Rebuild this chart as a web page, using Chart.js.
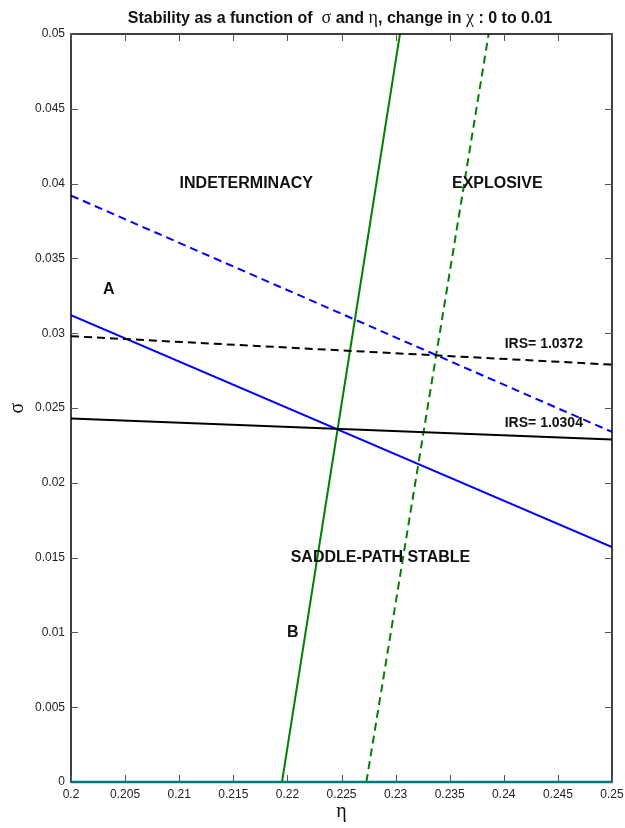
<!DOCTYPE html>
<html>
<head>
<meta charset="utf-8">
<script src="https://cdn.jsdelivr.net/npm/chart.js@4.4.1/dist/chart.umd.min.js"></script>
<style>
  html, body { margin: 0; padding: 0; background: #fff; }
  #wrap { width: 625px; height: 828px; }
</style>
</head>
<body>
<div id="wrap"><canvas id="chart" width="625" height="828"></canvas></div>
<script>
// eixos
const ETA_RANGE   = [0.2, 0.25];
const SIGMA_RANGE = [0, 0.05];
const TICK_STEP   = 0.005;

// sigma nas bordas eta=0.2 e eta=0.25
const IRS_LOW  = [0.0243, 0.0229];   // preto sólido
const IRS_HIGH = [0.0298, 0.0279];   // preto tracejado
const A_OLD    = [0.0312, 0.0157];   // azul sólido
const A_NEW    = [0.0392, 0.0234];   // azul tracejado

// eta nas bordas sigma=0 e sigma=0.05
const B_OLD = [0.2195, 0.2304];      // verde sólido
const B_NEW = [0.2273, 0.2386];      // verde tracejado

// rótulos no gráfico: [texto, eta, sigma, tamanho]
const ROTULOS = [
  ['INDETERMINACY',      0.2162, 0.0400, 16],
  ['EXPLOSIVE',          0.2394, 0.0400, 16],
  ['A',                  0.2035, 0.0329, 16],
  ['B',                  0.2205, 0.0100, 16],
  ['SADDLE-PATH STABLE', 0.2286, 0.0150, 16],
  ['IRS= 1.0372',        0.2437, 0.0293, 14],
  ['IRS= 1.0304',        0.2437, 0.0240, 14]
];

const TITULO = [
  ['Stability as a function of  ', true],
  ['σ', false],
  [' and ', true],
  ['η', false],
  [', change in ', true],
  ['χ', false],
  [' : 0 to 0.01', true]
];

const horiz = ys => ETA_RANGE.map((x, i) => ({ x, y: ys[i] }));
const vert  = xs => SIGMA_RANGE.map((y, i) => ({ x: xs[i], y }));

function serie(data, cor, tracejado) {
  return {
    data, borderColor: cor, borderWidth: 2, showLine: true,
    pointRadius: 0, borderDash: tracejado ? [8, 5] : [], fill: false
  };
}

const molduraPlugin = {
  id: 'moldura',
  afterDatasetsDraw(chart) {
    const { ctx, chartArea: a, scales: { x, y } } = chart;
    ctx.save();
    ctx.strokeStyle = '#000';
    ctx.lineWidth = 1.5;
    ctx.strokeRect(a.left, a.top, a.right - a.left, a.bottom - a.top);
    ctx.lineWidth = 1;
    ctx.strokeStyle = '#555';
    const len = 7;
    x.ticks.forEach(t => {
      const px = Math.round(x.getPixelForValue(t.value)) + 0.5;
      ctx.beginPath();
      ctx.moveTo(px, a.bottom); ctx.lineTo(px, a.bottom - len);
      ctx.moveTo(px, a.top);    ctx.lineTo(px, a.top + len);
      ctx.stroke();
    });
    y.ticks.forEach(t => {
      const py = Math.round(y.getPixelForValue(t.value)) + 0.5;
      ctx.beginPath();
      ctx.moveTo(a.left, py);  ctx.lineTo(a.left + len, py);
      ctx.moveTo(a.right, py); ctx.lineTo(a.right - len, py);
      ctx.stroke();
    });
    // linha sigma = 0
    ctx.strokeStyle = '#007b7b';
    ctx.lineWidth = 2.5;
    ctx.beginPath();
    ctx.moveTo(x.getPixelForValue(ETA_RANGE[0]), y.getPixelForValue(0));
    ctx.lineTo(x.getPixelForValue(ETA_RANGE[1]), y.getPixelForValue(0));
    ctx.stroke();

    // rótulos
    ctx.fillStyle = '#111';
    ctx.textAlign = 'center';
    ctx.textBaseline = 'middle';
    ROTULOS.forEach(([txt, ex, sg, sz]) => {
      ctx.font = 'bold ' + sz + 'px "Liberation Sans", Arial, sans-serif';
      ctx.fillText(txt, x.getPixelForValue(ex), y.getPixelForValue(sg));
    });

    // título com letras gregas sem negrito
    const fonte = b => b ? 'bold 16px "Liberation Sans", Arial, sans-serif'
                         : '18px "Liberation Serif", "Times New Roman", serif';
    let total = 0;
    TITULO.forEach(([s, b]) => { ctx.font = fonte(b); total += ctx.measureText(s).width; });
    let cx = 340 - total / 2;
    ctx.textAlign = 'left';
    ctx.textBaseline = 'alphabetic';
    TITULO.forEach(([s, b]) => {
      ctx.font = fonte(b);
      ctx.fillText(s, cx, 23);
      cx += ctx.measureText(s).width;
    });
    ctx.restore();
  }
};

new Chart(document.getElementById('chart'), {
  type: 'scatter',
  data: {
    datasets: [
      serie(horiz(IRS_HIGH), '#000000', true),
      serie(horiz(IRS_LOW),  '#000000', false),
      serie(horiz(A_NEW),    '#0000ff', true),
      serie(horiz(A_OLD),    '#0000ff', false),
      serie(vert(B_NEW),     '#008000', true),
      serie(vert(B_OLD),     '#008000', false)
    ]
  },
  plugins: [molduraPlugin],
  options: {
    responsive: false,
    animation: false,
    layout: { padding: { top: 34, right: 13, left: 0, bottom: 0 } },
    plugins: { legend: { display: false }, tooltip: { enabled: false }, title: { display: false } },
    scales: {
      x: {
        type: 'linear', min: ETA_RANGE[0], max: ETA_RANGE[1],
        grid: { display: false, drawTicks: false }, border: { display: false },
        ticks: {
          stepSize: TICK_STEP, color: '#222', padding: 5,
          font: { family: '"Liberation Sans", Arial, sans-serif', size: 12 },
          callback: v => +v.toFixed(3)
        },
        title: {
          display: true, text: 'η', color: '#111',
          font: { family: '"Liberation Serif", serif', size: 20 },
          padding: { top: 0, bottom: 4 }
        },
        afterFit: s => { s.height = 46; s.paddingLeft = 0; s.paddingRight = 0; }
      },
      y: {
        type: 'linear', min: SIGMA_RANGE[0], max: SIGMA_RANGE[1],
        grid: { display: false, drawTicks: false }, border: { display: false },
        ticks: {
          stepSize: TICK_STEP, color: '#222', padding: 6,
          font: { family: '"Liberation Sans", Arial, sans-serif', size: 12 },
          callback: v => +v.toFixed(3)
        },
        title: {
          display: true, text: 'σ', color: '#111',
          font: { family: '"Liberation Serif", serif', size: 20 },
          padding: { top: 6, bottom: 0 }
        },
        afterFit: s => { s.width = 71; s.paddingTop = 0; s.paddingBottom = 0; }
      }
    }
  }
});
</script>
</body>
</html>
